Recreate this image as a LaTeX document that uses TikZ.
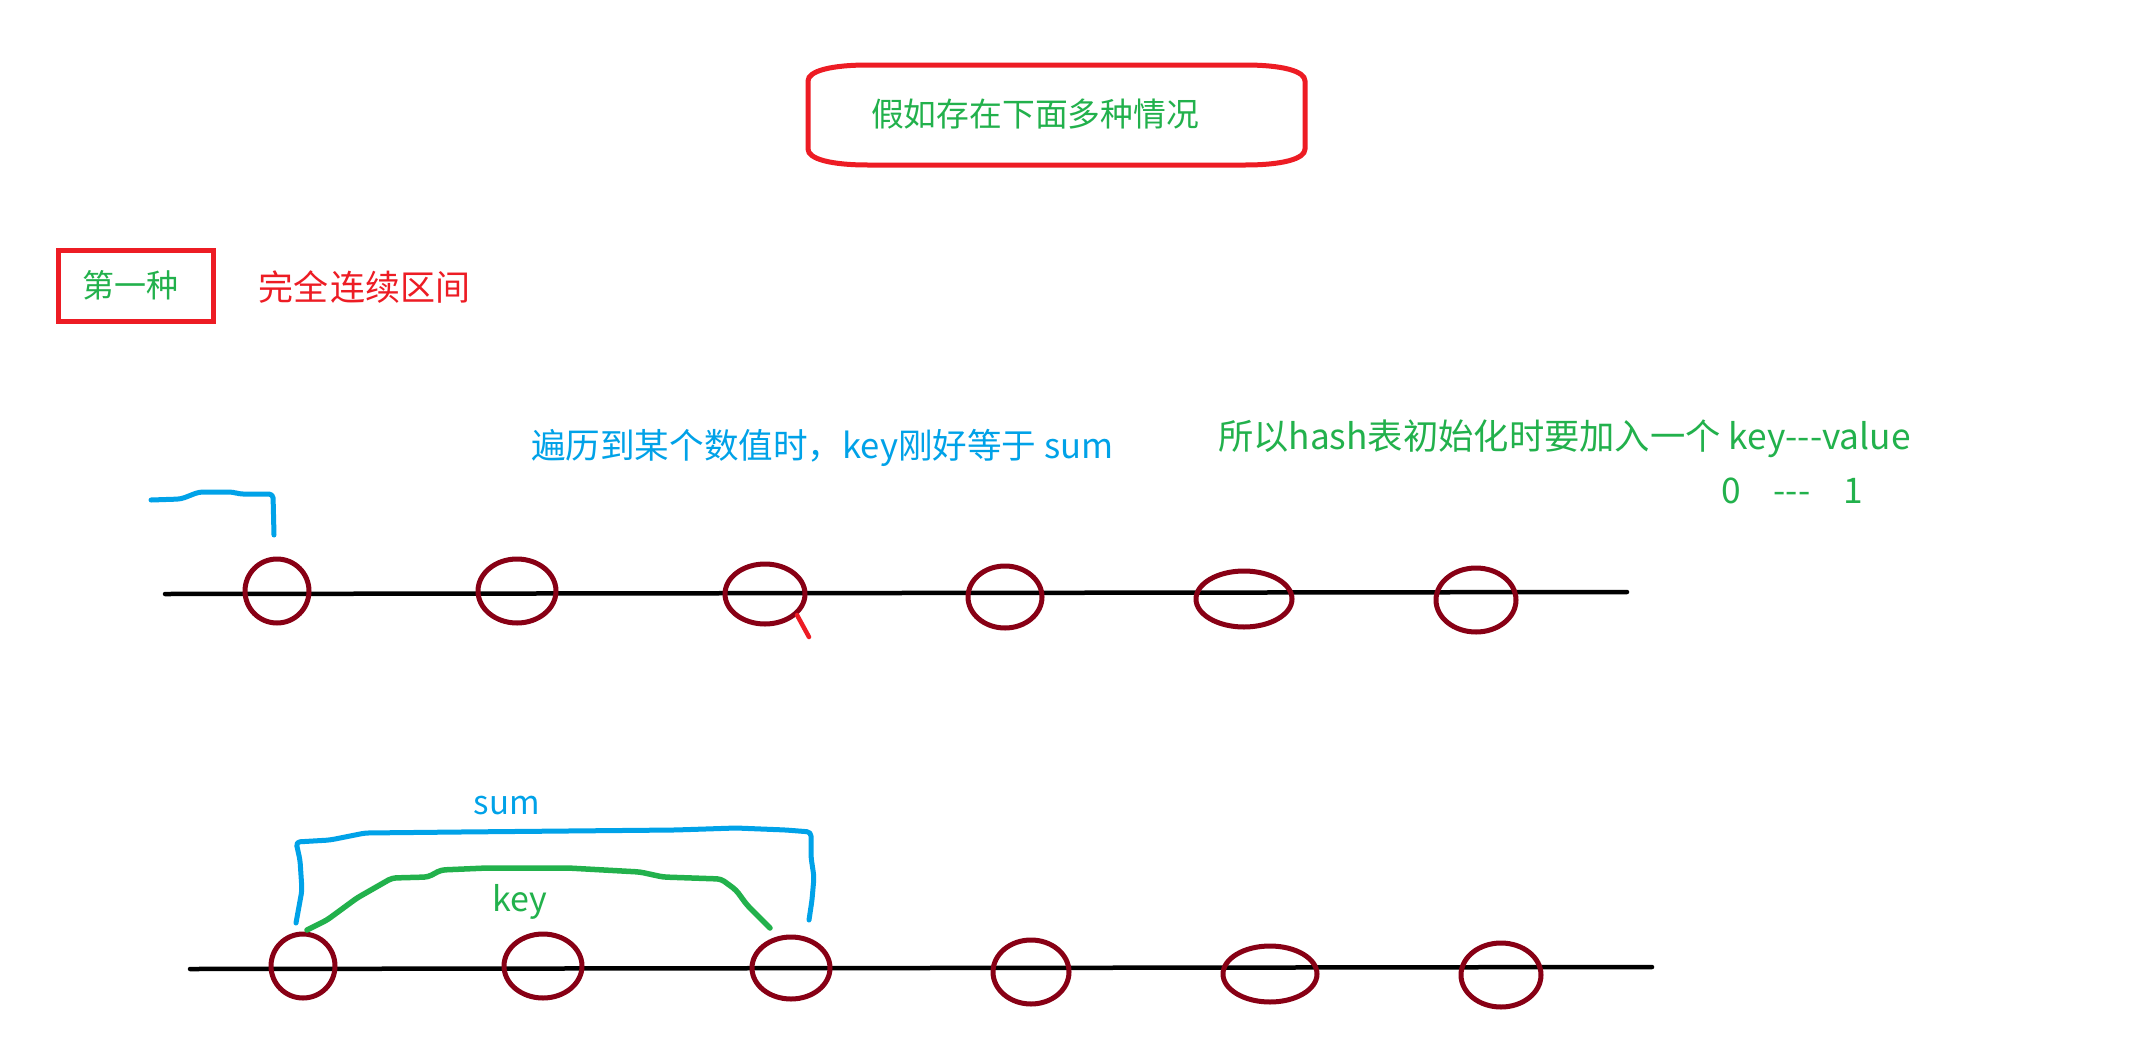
\documentclass[tikz,border=0pt]{standalone}
\usepackage{fontspec}
\setmainfont{Noto Sans CJK SC}
\usetikzlibrary{shapes.geometric}
\definecolor{pgreen}{HTML}{22B14C}
\definecolor{pblue}{HTML}{00A2E8}
\definecolor{pred}{HTML}{ED1C24}
\definecolor{pdark}{HTML}{880015}
\tikzset{
  txt/.style={inner sep=0pt, outer sep=0pt},
  circ/.style={ellipse, draw=pdark, line width=5pt, inner sep=0pt},
  axisline/.style={draw=black, line width=4.5pt, line cap=round},
  bluepen/.style={draw=pblue, line width=5pt, line cap=round, line join=round, rounded corners=4pt},
  greenpen/.style={draw=pgreen, line width=5.5pt, line cap=round, line join=round, rounded corners=4pt},
  redbox/.style={draw=pred, line width=5pt},
}
\begin{document}
\begin{tikzpicture}[x=1pt,y=-1pt]
\useasboundingbox[fill=white] (0,0) rectangle (2150,1055);

% title
\draw[redbox] (868,65) -- (1245,65) .. controls (1282,65) and (1305,71) .. (1305,81)
  -- (1305,149) .. controls (1305,159) and (1282,165) .. (1245,165)
  -- (868,165) .. controls (831,165) and (808,159) .. (808,149)
  -- (808,81) .. controls (808,71) and (831,65) .. (868,65) -- cycle;
\node[txt, anchor=west, text=pgreen, font=\fontsize{32.8}{38}\selectfont] (title) at (871,114) {假如存在下面多种情况};

% first kind
\node[txt, draw=pred, line width=5pt, minimum width=155pt, minimum height=71pt] (kindbox) at (135.5,285.5) {};
\node[txt, anchor=west, text=pgreen, font=\fontsize{32}{38}\selectfont] (kind) at (82,285) {第一种};
\node[txt, anchor=west, text=pred, font=\fontsize{35}{40}\selectfont] (cont) at (258,287) {完全\hspace{3pt}连续区间};

% texts
\node[txt, anchor=west, text=pblue, font=\fontsize{34.6}{40}\selectfont] (bluetxt) at (531,448) {遍历到某个数值时，key刚好等于 sum};
\node[txt, anchor=west, text=pgreen, font=\fontsize{35.3}{42}\selectfont] (greentxt) at (1218,439) {所以hash表初始化时要加入一个 key-{}-{}-value};
\node[txt, anchor=west, text=pgreen, font=\fontsize{35.3}{42}\selectfont] (zeroone) at (1721,491) {0\hspace{33pt}-{}-{}-\hspace{33pt}1};

% top line
\coordinate (tl1) at (165,594);
\coordinate (tl2) at (1627,592);
\draw[axisline] (tl1) -- (tl2);
\node[circ, minimum width=64pt, minimum height=64pt] (a1) at (277,591) {};
\node[circ, minimum width=78pt, minimum height=64pt] (a2) at (517,591) {};
\node[circ, minimum width=80pt, minimum height=60pt] (a3) at (765,594) {};
\node[circ, minimum width=74pt, minimum height=62pt] (a4) at (1005,597) {};
\node[circ, minimum width=96pt, minimum height=56pt] (a5) at (1244,599) {};
\node[circ, minimum width=80pt, minimum height=64pt] (a6) at (1476,600) {};
\draw[draw=pred, line width=4.5pt, line cap=round] (797,615) -- (809,637);
\draw[bluepen] (151,500) -- (181,499) -- (199,492) -- (233,492) -- (239,494) -- (273,494) -- (274,535);

% bottom line
\coordinate (bl1) at (190,969);
\coordinate (bl2) at (1652,967);
\draw[axisline] (bl1) -- (bl2);
\node[circ, minimum width=64pt, minimum height=64pt] (b1) at (303,966) {};
\node[circ, minimum width=78pt, minimum height=64pt] (b2) at (543,966) {};
\node[circ, minimum width=78pt, minimum height=62pt] (b3) at (791,968) {};
\node[circ, minimum width=76pt, minimum height=64pt] (b4) at (1031,972) {};
\node[circ, minimum width=94pt, minimum height=56pt] (b5) at (1270,974) {};
\node[circ, minimum width=80pt, minimum height=64pt] (b6) at (1501,975) {};

\draw[bluepen] (296,923) -- (302,890) -- (300,860) -- (296,842) -- (330,840) -- (365,833) -- (460,832) -- (675,830) -- (736,828) -- (786,830) -- (811,832) -- (811,857) -- (814,877) -- (812,900) -- (809,920);
\draw[greenpen] (307,930) -- (327,920) -- (357,898) -- (392,878) -- (428,877) -- (441,870) -- (487,868) -- (568,868) -- (640,872) -- (663,877) -- (721,879) -- (736,890) -- (747,905) -- (770,928);
\node[txt, text=pblue, font=\fontsize{33}{40}\selectfont] (sumlbl) at (507,806) {sum};
\node[txt, text=pgreen, font=\fontsize{34}{40}\selectfont] (keylbl) at (520,902) {key};
\end{tikzpicture}
\end{document}
